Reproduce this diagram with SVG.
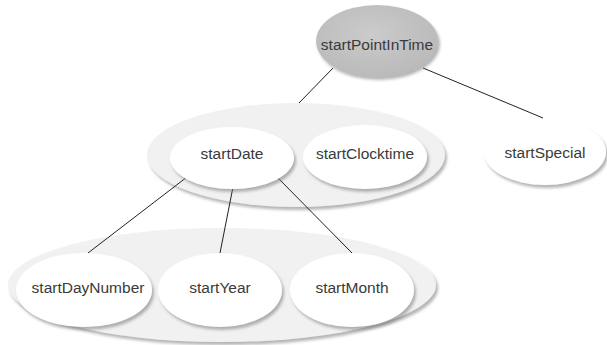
<svg xmlns="http://www.w3.org/2000/svg" width="607" height="345" viewBox="0 0 607 345">
<defs>
<filter id="sh" x="-20%" y="-20%" width="140%" height="150%">
<feDropShadow dx="2" dy="3" stdDeviation="1.8" flood-color="#777" flood-opacity="0.55"/>
</filter>
<radialGradient id="gTop" cx="45%" cy="40%" r="60%">
<stop offset="0" stop-color="#cbcbcb"/>
<stop offset="1" stop-color="#bababa"/>
</radialGradient>
</defs>
<style>
.grp{fill:#f1f1f1;filter:url(#sh)}
.node{fill:#ffffff;filter:url(#sh)}
.lbl{font-family:"Liberation Sans",Arial,sans-serif;font-size:15.5px;fill:#3a3a3a;text-anchor:middle}
.conn line{stroke:#222;stroke-width:1}
</style>
<rect width="607" height="345" fill="#ffffff"/>
<g id="group-date-clock"><ellipse class="grp" cx="296" cy="155" rx="149" ry="52"/></g>
<g id="group-day-year-month"><ellipse class="grp" cx="222" cy="285" rx="214" ry="57"/></g>
<g class="conn" id="connectors">
<line x1="333" y1="68" x2="299" y2="103"/>
<line x1="423" y1="68" x2="543" y2="118"/>
<line x1="187" y1="177" x2="88" y2="253"/>
<line x1="233" y1="187" x2="220" y2="253"/>
<line x1="277" y1="177" x2="352" y2="253"/>
</g>
<g id="startPointInTime"><ellipse cx="377" cy="41" rx="61" ry="36" fill="url(#gTop)" filter="url(#sh)"/><text class="lbl" x="377" y="50">startPointInTime</text></g>
<g id="startDate"><ellipse class="node" cx="232" cy="158" rx="62" ry="31"/><text class="lbl" x="232" y="159">startDate</text></g>
<g id="startClocktime"><ellipse class="node" cx="365" cy="157" rx="62" ry="32"/><text class="lbl" x="365" y="159">startClocktime</text></g>
<g id="startSpecial"><ellipse class="node" cx="545" cy="152" rx="61" ry="33"/><text class="lbl" x="545" y="158">startSpecial</text></g>
<g id="startDayNumber"><ellipse class="node" cx="84" cy="290" rx="68" ry="37"/><text class="lbl" x="88" y="293">startDayNumber</text></g>
<g id="startYear"><ellipse class="node" cx="220" cy="290" rx="62" ry="37"/><text class="lbl" x="220" y="293">startYear</text></g>
<g id="startMonth"><ellipse class="node" cx="352" cy="290" rx="62" ry="37"/><text class="lbl" x="352" y="293">startMonth</text></g>
</svg>
